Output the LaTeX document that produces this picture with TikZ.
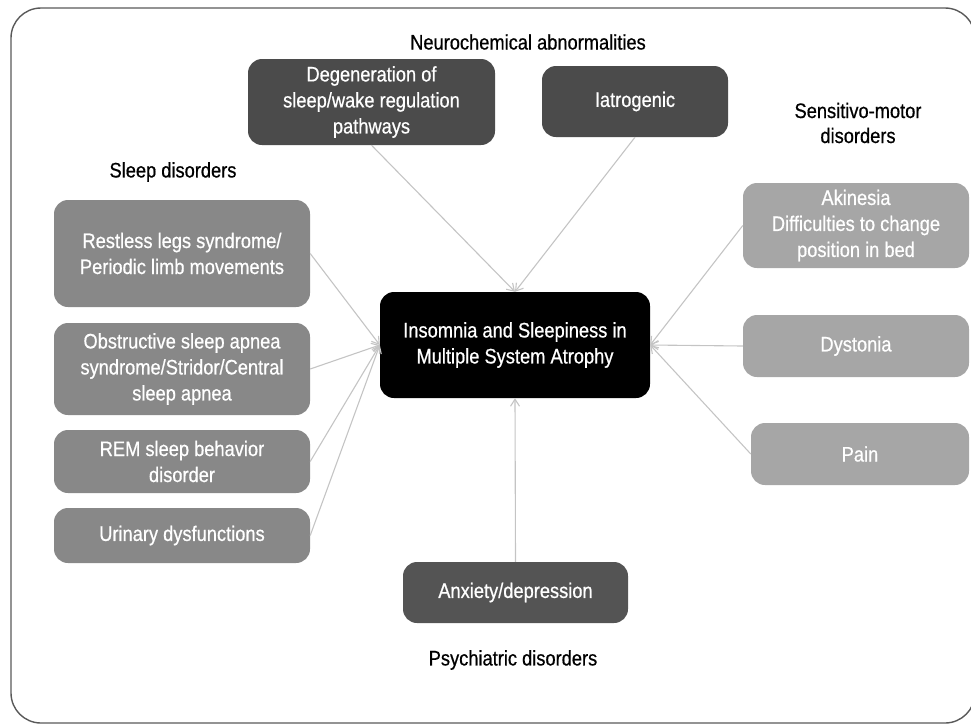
\documentclass[tikz,border=0pt]{standalone}
\usepackage{fontspec}
\setmainfont{Liberation Sans}[FakeStretch=0.87, FakeBold=0.6]
\usetikzlibrary{arrows.meta}
\definecolor{darkbox}{HTML}{4B4B4B}
\definecolor{midbox}{HTML}{888888}
\definecolor{lightbox}{HTML}{A6A6A6}
\definecolor{linkgray}{HTML}{C4C4C4}
\tikzset{
  cause/.style={rounded corners=14pt, inner sep=0pt, align=center, text=white,
    font=\fontsize{21}{26}\selectfont},
  neuro/.style={cause, fill=darkbox},
  sleepbox/.style={cause, fill=midbox, minimum width=256pt},
  motorbox/.style={cause, fill=lightbox},
  grouplabel/.style={align=center, font=\fontsize{21}{25}\selectfont},
  link/.style={draw=linkgray, line width=1.1pt, -{Straight Barb[length=7pt,width=9pt]}}
}
\begin{document}
\begin{tikzpicture}[x=1pt, y=-1pt]
  \useasboundingbox (0,0) rectangle (971,724);
  \clip (0,0) rectangle (971,724);
  \draw[draw=black!65, line width=1.4pt, rounded corners=30pt] (11,8) rectangle (975,723);

  \node[cause, fill=black, minimum width=270pt, minimum height=106pt] (msa) at (515,345)
    {Insomnia and Sleepiness in\\Multiple System Atrophy};

  \node[grouplabel] (neurolab) at (528,42) {Neurochemical abnormalities};
  \node[neuro, minimum width=247pt, minimum height=86pt] (degen) at (371.5,102)
    {Degeneration of\\sleep/wake regulation\\pathways};
  \node[neuro, minimum width=186pt, minimum height=71pt] (iatro) at (635,101.5) {Iatrogenic};

  \node[grouplabel] (sleeplab) at (173,172) {Sleep disorders};
  \node[sleepbox, minimum height=107pt] (rls) at (182,253.5)
    {Restless legs syndrome/\\Periodic limb movements};
  \node[sleepbox, minimum height=92pt] (osas) at (182,369)
    {Obstructive sleep apnea\\syndrome/Stridor/Central\\sleep apnea};
  \node[sleepbox, minimum height=63pt] (rbd) at (182,461.5) {REM sleep behavior\\disorder};
  \node[sleepbox, minimum height=55pt] (urin) at (182,535.5) {Urinary dysfunctions};

  \node[grouplabel] (motorlab) at (858,123) {Sensitivo-motor\\disorders};
  \node[motorbox, minimum width=226pt, minimum height=85pt] (akin) at (856,225.5)
    {Akinesia\\Difficulties to change\\position in bed};
  \node[motorbox, minimum width=226pt, minimum height=62pt] (dyst) at (856,346) {Dystonia};
  \node[motorbox, minimum width=218pt, minimum height=62pt] (pain) at (860,454) {Pain};

  \node[neuro, fill=darkbox!95!white, minimum width=225pt, minimum height=61pt] (anx) at (515.5,592.5)
    {Anxiety/depression};
  \node[grouplabel] (psychlab) at (513,660) {Psychiatric disorders};

  \draw[link] (degen.south) -- (msa.north);
  \draw[link] (iatro.south) -- (msa.north);
  \draw[link] (rls.east) -- (msa.west);
  \draw[link] (osas.east) -- (msa.west);
  \draw[link] (rbd.east) -- (msa.west);
  \draw[link] (urin.east) -- (msa.west);
  \draw[link] (akin.west) -- (msa.east);
  \draw[link] (dyst.west) -- (msa.east);
  \draw[link] (pain.west) -- (msa.east);
  \draw[link] (anx.north) -- (msa.south);
\end{tikzpicture}
\end{document}
